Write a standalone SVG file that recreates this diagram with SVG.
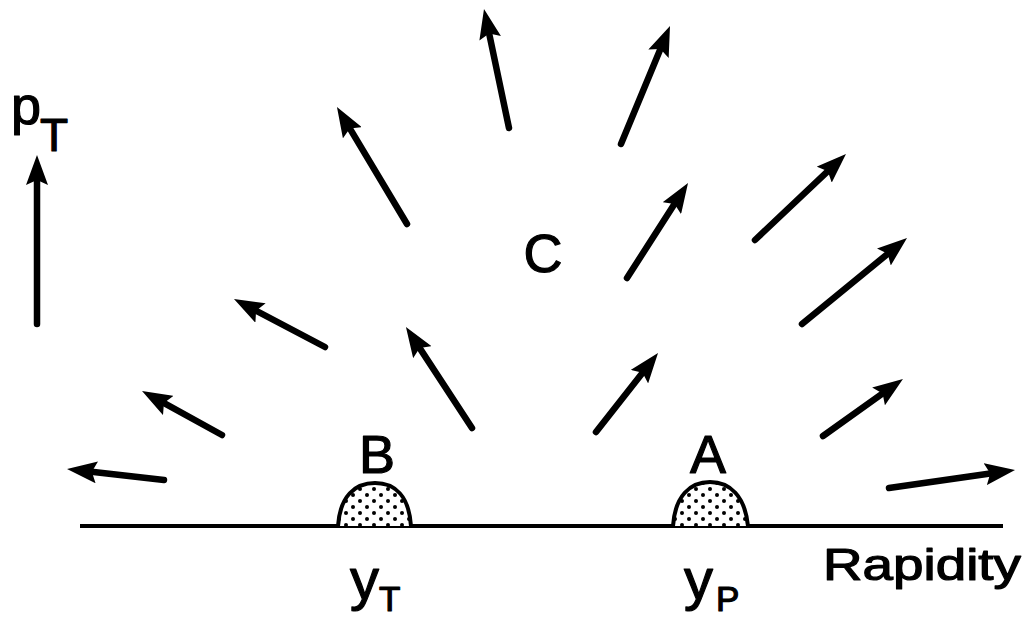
<svg xmlns="http://www.w3.org/2000/svg" width="1031" height="621" viewBox="0 0 1031 621">
  <style>
    .arrow { stroke: #000; stroke-width: 6.5; stroke-linecap: round; fill: none; marker-end: url(#head); }
    .bump { stroke: #000; stroke-width: 4; fill: url(#dots); }
    .lbl { font-family: "Liberation Sans", Arial, sans-serif; fill: #000; stroke: #000; stroke-width: 1.2; stroke-linejoin: round; }
  </style>
  <defs>
    <marker id="head" markerUnits="userSpaceOnUse" viewBox="0 0 30 22" markerWidth="30" markerHeight="22" refX="12" refY="11" orient="auto">
      <path d="M0,0 L30,11 L0,22 L5,11 z" fill="#000"/>
    </marker>
    <pattern id="dots" patternUnits="userSpaceOnUse" width="14" height="12">
      <rect width="14" height="12" fill="#fff"/>
      <circle cx="3" cy="3" r="2" fill="#000"/>
      <circle cx="10" cy="9" r="2" fill="#000"/>
    </pattern>
  </defs>
  <rect width="1031" height="621" fill="#fff"/>

  <g id="axis">
    <line x1="80" y1="526" x2="1003" y2="526" stroke="#000" stroke-width="4"/>
    <line class="arrow" x1="37" y1="324" x2="37" y2="173"/>
    <text class="lbl" x="11" y="124" font-size="54">p</text>
    <text class="lbl" x="40" y="151" font-size="46">T</text>
    <text class="lbl" x="823" y="580" font-size="44" textLength="198" lengthAdjust="spacingAndGlyphs">Rapidity</text>
  </g>

  <g id="nodeB">
    <path class="bump" d="M338,526 C340,496 355,483 375,483 C395,483 409,496 411,526"/>
    <text class="lbl" x="377" y="473" font-size="54" text-anchor="middle">B</text>
    <text class="lbl" x="350" y="599" font-size="58">y</text>
    <text class="lbl" x="379" y="611" font-size="35">T</text>
  </g>

  <g id="nodeA">
    <path class="bump" d="M673,526 C675,496 690,482 710,482 C730,482 745,496 748,526"/>
    <text class="lbl" x="708" y="473" font-size="54" text-anchor="middle">A</text>
    <text class="lbl" x="684" y="599" font-size="58">y</text>
    <text class="lbl" x="716" y="611" font-size="35">P</text>
  </g>

  <g id="nodeC">
    <text class="lbl" x="543" y="272" font-size="54" text-anchor="middle">C</text>
  </g>

  <g id="connectors">
    <line class="arrow" x1="164" y1="480" x2="84.9" y2="471"/>
    <line class="arrow" x1="222" y1="435" x2="157.8" y2="399.7"/>
    <line class="arrow" x1="325" y1="347" x2="249.9" y2="307.4"/>
    <line class="arrow" x1="407" y1="224" x2="346.2" y2="122.4"/>
    <line class="arrow" x1="472" y1="428" x2="415.8" y2="342.1"/>
    <line class="arrow" x1="509" y1="128" x2="487.7" y2="26.6"/>
    <line class="arrow" x1="621" y1="144" x2="663.1" y2="42.6"/>
    <line class="arrow" x1="627" y1="278" x2="678.3" y2="198.1"/>
    <line class="arrow" x1="596" y1="432" x2="646.9" y2="367.2"/>
    <line class="arrow" x1="755" y1="240" x2="832.9" y2="166.4"/>
    <line class="arrow" x1="802" y1="324" x2="893.1" y2="249.4"/>
    <line class="arrow" x1="823" y1="436" x2="888.3" y2="389.4"/>
    <line class="arrow" x1="889" y1="488" x2="997.2" y2="472.5"/>
  </g>
</svg>
